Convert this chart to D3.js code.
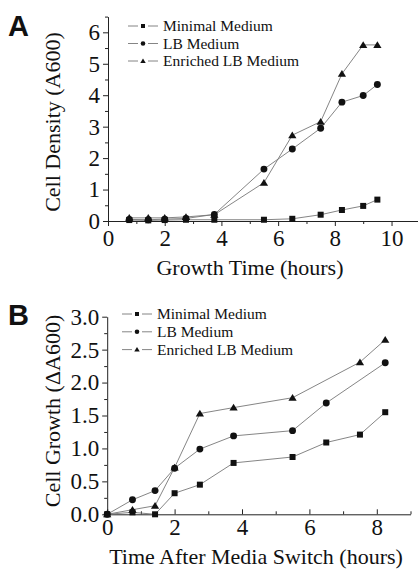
<!DOCTYPE html>
<html>
<head>
<meta charset="utf-8">
<script src="https://cdn.jsdelivr.net/npm/d3@7"></script>
<style>
  body { margin: 0; background: #fff; }
  svg { display: block; }
  text { font-family: "Liberation Serif", "Times New Roman", serif; fill: #111; }
  .domain, .tick line { stroke: #222; stroke-width: 1; }
</style>
</head>
<body>
<svg id="chart" width="418" height="570"></svg>
<script>
// series names
const seriesNames = ["Minimal Medium", "LB Medium", "Enriched LB Medium"];
const markerTypes = ["square", "circle", "triangle"];
const serif = "'Liberation Serif', 'Times New Roman', serif";

// panel A: growth time (hours) vs cell density
const timeA = [0.75, 1.42, 2.0, 2.75, 3.75, 5.5, 6.5, 7.5, 8.25, 9.0, 9.5];
const minimalA = [0.03, 0.02, 0.03, 0.04, 0.04, 0.04, 0.07, 0.2, 0.35, 0.48, 0.68];
const lbA = [0.05, 0.04, 0.06, 0.08, 0.21, 1.65, 2.29, 2.95, 3.78, 3.99, 4.34];
const enrichedA = [0.1, 0.1, 0.1, 0.13, 0.2, 1.22, 2.73, 3.16, 4.68, 5.6, 5.6];
const xTicksA = [0, 2, 4, 6, 8, 10];
const yTicksA = [0, 1, 2, 3, 4, 5, 6];

// panel B: time after media switch vs cell growth (null = no point)
const timeB = [0, 0.75, 1.42, 2.0, 2.75, 3.75, 5.5, 6.5, 7.5, 8.25];
const minimalB = [0, 0.03, 0.0, 0.32, 0.45, 0.78, 0.87, 1.09, 1.21, 1.55];
const lbB = [0, 0.22, 0.36, 0.7, 0.99, 1.19, 1.27, 1.69, null, 2.3];
const enrichedB = [0, 0.07, 0.13, 0.71, 1.53, 1.62, 1.77, null, 2.31, 2.65];
const xTicksB = [0, 2, 4, 6, 8];
const yTicksB = [0, 0.5, 1.0, 1.5, 2.0, 2.5, 3.0];

const svg = d3.select("#chart");

function toPoints(xs, ys) {
  return xs.map((x, i) => ({x: x, y: ys[i]})).filter(d => d.y != null);
}

function drawMarker(g, type, x, y, s) {
  if (type === "square") {
    g.append("rect").attr("x", x - s).attr("y", y - s)
      .attr("width", 2 * s).attr("height", 2 * s).attr("fill", "#111");
  } else if (type === "circle") {
    g.append("circle").attr("cx", x).attr("cy", y).attr("r", s * 1.15).attr("fill", "#111");
  } else {
    const h = s * 1.25;
    g.append("path")
      .attr("d", `M${x},${y - h}L${x + h * 1.1},${y + h * 0.8}L${x - h * 1.1},${y + h * 0.8}Z`)
      .attr("fill", "#111");
  }
}

function panel(opt) {
  const g = svg.append("g");
  const x = d3.scaleLinear().domain(opt.xDomain).range(opt.xRange);
  const y = d3.scaleLinear().domain(opt.yDomain).range(opt.yRange);

  // minor ticks
  g.append("g")
    .attr("transform", `translate(0,${opt.yRange[0]})`)
    .call(d3.axisBottom(x).tickValues(d3.range(1, opt.xDomain[1] + 0.01, 2))
      .tickSize(opt.xInward ? -3 : 3).tickFormat(""))
    .call(a => a.select(".domain").remove());
  g.append("g")
    .attr("transform", `translate(${opt.xRange[0]},0)`)
    .call(d3.axisLeft(y).tickValues(opt.yMinor).tickSize(3).tickFormat(""))
    .call(a => a.select(".domain").remove());

  // major axes
  const xa = g.append("g")
    .attr("transform", `translate(0,${opt.yRange[0]})`)
    .call(d3.axisBottom(x).tickValues(opt.xTicks)
      .tickSize(opt.xInward ? -5 : 5).tickSizeOuter(0)
      .tickPadding(4).tickFormat(d3.format("d")));
  xa.attr("font-family", null);
  xa.selectAll(".tick text").style("font-family", serif)
    .style("font-size", "23px").attr("fill", "#111");

  const ya = g.append("g")
    .attr("transform", `translate(${opt.xRange[0]},0)`)
    .call(d3.axisLeft(y).tickValues(opt.yTicks).tickSize(5).tickSizeOuter(0)
      .tickPadding(3).tickFormat(opt.yFormat));
  ya.attr("font-family", null);
  ya.selectAll(".tick text").style("font-family", serif)
    .style("font-size", "23px").attr("fill", "#111");

  // series
  const ser = [opt.minimal, opt.lb, opt.enriched];
  const line = d3.line().x(d => x(d.x)).y(d => y(d.y));
  ser.forEach(vals => {
    g.append("path").datum(toPoints(opt.time, vals))
      .attr("d", line).attr("fill", "none")
      .attr("stroke", "#777").attr("stroke-width", 0.9);
  });
  ser.forEach((vals, k) => {
    toPoints(opt.time, vals).forEach(d => drawMarker(g, markerTypes[k], x(d.x), y(d.y), 3));
  });

  // legend
  seriesNames.forEach((name, k) => {
    const ly = opt.legendY + k * opt.legendStep;
    const lx = opt.legendX;
    g.append("line").attr("x1", lx).attr("x2", lx + 10).attr("y1", ly).attr("y2", ly)
      .attr("stroke", "#777").attr("stroke-width", 0.9);
    g.append("line").attr("x1", lx + 20).attr("x2", lx + 30).attr("y1", ly).attr("y2", ly)
      .attr("stroke", "#777").attr("stroke-width", 0.9);
    drawMarker(g, markerTypes[k], lx + 15, ly, 2);
    g.append("text").attr("x", lx + 35).attr("y", ly + 5)
      .style("font-size", "15.5px").text(name);
  });

  // axis titles
  g.append("text").attr("x", opt.xTitlePos[0]).attr("y", opt.xTitlePos[1])
    .attr("text-anchor", "middle").style("font-size", "22px").text(opt.xTitle);
  g.append("text")
    .attr("transform", `translate(${opt.yTitlePos[0]},${opt.yTitlePos[1]}) rotate(-90)`)
    .attr("text-anchor", "middle").style("font-size", "22px").text(opt.yTitle);

  // panel letter
  g.append("text").attr("x", opt.letterPos[0]).attr("y", opt.letterPos[1])
    .style("font-family", "'Liberation Sans', Arial, sans-serif")
    .attr("font-weight", "bold").style("font-size", "29px").text(opt.letter);
}

panel({
  letter: "A", letterPos: [8, 36],
  xDomain: [0, 11], xRange: [108, 419.9],
  yDomain: [0, 6.5], yRange: [221, 16.6],
  xTicks: xTicksA, yTicks: yTicksA,
  yMinor: d3.range(0.5, 6.6, 1),
  yFormat: d3.format("d"),
  xInward: false,
  time: timeA, minimal: minimalA, lb: lbA, enriched: enrichedA,
  legendX: 128, legendY: 26, legendStep: 17.5,
  xTitle: "Growth Time (hours)", xTitlePos: [250, 275],
  yTitle: "Cell Density (A600)", yTitlePos: [60, 122]
});

panel({
  letter: "B", letterPos: [8, 325],
  xDomain: [0, 9], xRange: [107.2, 410.5],
  yDomain: [0, 3], yRange: [514.3, 316.7],
  xTicks: xTicksB, yTicks: yTicksB,
  yMinor: d3.range(0.25, 3, 0.5),
  yFormat: d3.format(".1f"),
  xInward: true,
  time: timeB, minimal: minimalB, lb: lbB, enriched: enrichedB,
  legendX: 122, legendY: 314, legendStep: 17.8,
  xTitle: "Time After Media Switch (hours)", xTitlePos: [256, 564],
  yTitle: "Cell Growth (\u0394A600)", yTitlePos: [60, 411]
});
</script>
</body>
</html>
